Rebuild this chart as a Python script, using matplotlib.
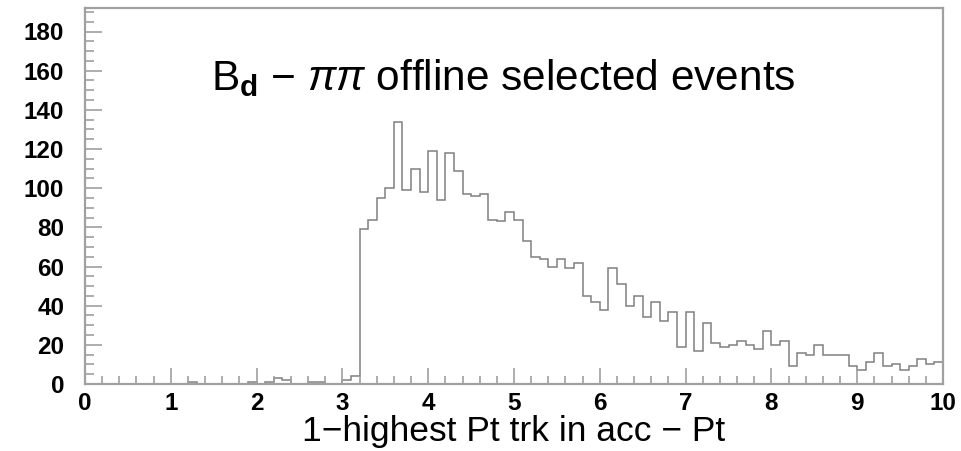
import numpy as np
import matplotlib
matplotlib.use("Agg")
import matplotlib.pyplot as plt
import matplotlib.ticker as ticker

plt.rcParams['font.family'] = ['Liberation Sans', 'DejaVu Sans']
plt.rcParams['mathtext.fontset'] = 'custom'
plt.rcParams['mathtext.rm'] = 'Liberation Sans'
plt.rcParams['mathtext.it'] = 'Liberation Sans:italic'
plt.rcParams['mathtext.bf'] = 'Liberation Sans:bold'

# histogram: 100 bins of 0.1 between 0 and 10
edges = np.linspace(0, 10, 101)
counts = [
    0, 0, 0, 0, 0, 0, 0, 0, 0, 0,
    0, 0, 1, 0, 0, 0, 0, 0, 0, 1,
    0, 1, 3, 2, 0, 0, 1, 1, 0, 0,
    2, 4, 79, 84, 95, 100, 134, 99, 110, 98,
    119, 94, 118, 109, 97, 96, 97, 84, 83, 88,
    84, 73, 65, 64, 60, 64, 59, 62, 45, 42,
    38, 59, 51, 40, 45, 34, 42, 32, 37, 19,
    37, 17, 31, 21, 19, 20, 22, 20, 18, 27,
    20, 22, 9, 16, 15, 20, 15, 15, 15, 9,
    7, 11, 16, 9, 10, 7, 9, 13, 10, 11,
]

title = r'B$_{\mathbf{d}}$ $-$ $\mathit{\pi\pi}$ offline selected events'
xlabel = '1\u2212highest Pt trk in acc \u2212 Pt'

fig = plt.figure(figsize=(9.61, 4.51), dpi=100)
ax = fig.add_axes([85/961, 1 - 384/451, 858/961, 376/451])

ax.stairs(counts, edges, color='#808080', lw=1.1)

ax.set_xlim(0, 10)
ax.set_ylim(0, 192)

for s in ax.spines.values():
    s.set_color('#a0a0a0')
    s.set_linewidth(1.6)

ax.xaxis.set_major_locator(ticker.MultipleLocator(1))
ax.xaxis.set_minor_locator(ticker.MultipleLocator(0.2))
ax.yaxis.set_major_locator(ticker.MultipleLocator(20))
ax.yaxis.set_minor_locator(ticker.MultipleLocator(5))
ax.tick_params(which='both', direction='in', color='#a0a0a0', width=1.2,
               labelsize=17.5)
ax.tick_params(axis='x', which='major', length=11.5, pad=6)
ax.tick_params(axis='x', which='minor', length=5.8)
ax.tick_params(axis='y', which='major', length=12, pad=15)
ax.tick_params(axis='y', which='minor', length=6.5)
for lab in ax.get_xticklabels() + ax.get_yticklabels():
    lab.set_fontweight('bold')

ax.set_xlabel(xlabel, fontsize=25.5, labelpad=0)
ax.text(0.487, 0.814, title, transform=ax.transAxes, fontsize=30.5,
        ha='center', va='center')

fig.savefig('out.png', dpi=100)
